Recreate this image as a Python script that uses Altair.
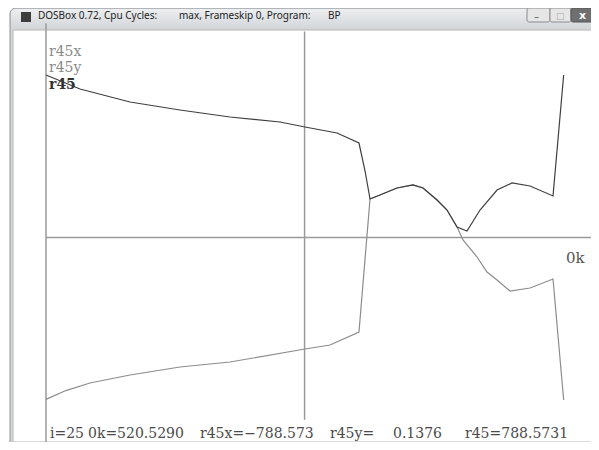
import altair as alt
import pandas as pd

# ---- data ----
# k parameter (x) and values of r45 (magnitude, dark) and r45x (gray)
r45_k = [0.0, 34.2, 84.5, 134.7, 185.0, 235.3, 260.4, 292.6, 314.7, 320.8, 325.8, 335.8,
         352.9, 369.0, 379.1, 393.2, 403.2, 413.3, 423.3, 436.4, 453.5, 468.6, 486.7,
         509.8, 520.5]
r45_v = [788.6, 720.9, 657.8, 618.9, 584.9, 560.7, 536.4, 507.3, 458.7, 322.8, 186.9, 206.3,
         240.3, 254.9, 240.3, 182.0, 133.5, 51.0, 31.6, 133.5, 230.6, 264.6, 250.0,
         201.5, 788.6]

r45x_k = [0.0, 20.0, 44.2, 84.5, 134.7, 185.0, 260.4, 285.6, 314.7, 325.8, 335.8, 352.9, 369.0,
          379.1, 393.2, 403.2, 413.3, 419.3, 433.4, 443.4, 453.5, 466.6, 486.7, 509.8, 520.5]
r45x_v = [-786.0, -743.0, -706.3, -667.5, -628.6, -604.4, -541.3, -521.8, -458.7, 186.9, 206.3,
          240.3, 254.9, 240.3, 182.0, 133.5, 51.0, -12.1, -94.7, -167.5, -206.3, -259.7, -245.1,
          -201.5, -788.6]

legend_labels = ["r45x", "r45y", "r45"]
status_labels = ["i=25", "0k=520.5290", "r45x=\u2212788.573", "r45y=", "0.1376", "r45=788.5731"]
title_parts = ["DOSBox 0.72, Cpu Cycles:", "max, Frameskip  0, Program:", "BP"]
axis_label = "0k"
marker_k = 260.0

W, H = 583, 434
xs = alt.Scale(domain=[0, 550], range=[38, 585])
ys = alt.Scale(domain=[-1000, 1000], range=[435.5, 23.5])

lines = pd.concat([
    pd.DataFrame({"k": r45x_k, "v": r45x_v, "s": "r45x", "o": range(len(r45x_k))}),
    pd.DataFrame({"k": r45_k, "v": r45_v, "s": "r45", "o": range(len(r45_k))}),
])

one = pd.DataFrame({"a": [0]})

def rect(x, x2, y, y2, fill, stroke=None, r=0, sw=1):
    kw = dict(fill=fill, cornerRadius=r)
    if stroke:
        kw.update(stroke=stroke, strokeWidth=sw)
    else:
        kw.update(strokeWidth=0)
    return alt.Chart(one).mark_rect(**kw).encode(
        x=alt.value(x), x2=alt.value(x2), y=alt.value(y), y2=alt.value(y2))

def txt(s, x, y, color, size, font, weight="normal"):
    return alt.Chart(one).mark_text(align="left", baseline="alphabetic", color=color,
                                    fontSize=size, font=font, fontWeight=weight).encode(
        x=alt.value(x), y=alt.value(y), text=alt.value(s))

title_grad = alt.Gradient(gradient="linear", x1=0, x2=0, y1=0, y2=1,
                          stops=[alt.GradientStop(color="#eceef0", offset=0),
                                 alt.GradientStop(color="#d3d6d9", offset=1)])

frame = [
    rect(2, 590, 0, 440, "#d6d9dc", "#8e9194", 6),
    rect(3, 589, 1, 21, title_grad, None, 5),
    rect(5, 585, 22, 434, "#ffffff", "#b5b5b5", 0),
    rect(13, 23, 4, 14, "#3c3c3c"),
    rect(519, 542, 0, 14, "#e6e6e6", "#8a8a8a", 2),
    rect(542, 563, 0, 14, "#e6e6e6", "#8a8a8a", 2),
    rect(563, 588, 0, 14, "#6f6f6f", "#555555", 2),
    txt(title_parts[0], 30, 11, "#222222", 10, "Noto Sans"),
    txt(title_parts[1], 171, 11, "#222222", 10, "Noto Sans"),
    txt(title_parts[2], 320, 11, "#222222", 10, "Noto Sans"),
    txt("\u2013", 526, 12, "#555555", 10, "DejaVu Sans"),
    txt("\u25a1", 548, 11, "#aaaaaa", 9, "DejaVu Sans"),
    txt("x", 571, 11, "#ffffff", 11, "DejaVu Sans", "bold"),
]

axes_df = pd.DataFrame({"k": [0, marker_k, 0], "k2": [0, marker_k, 550],
                        "v": [1040, 1000, 0], "v2": [-1000, -885, 0]})
rules = alt.Chart(axes_df).mark_rule(color="#9a9a9a", strokeWidth=1.5).encode(
    x=alt.X("k:Q", scale=xs, axis=None), x2="k2",
    y=alt.Y("v:Q", scale=ys, axis=None), y2="v2")

curves = alt.Chart(lines).mark_line(strokeWidth=1.2).encode(
    x=alt.X("k:Q", scale=xs, axis=None),
    y=alt.Y("v:Q", scale=ys, axis=None),
    color=alt.Color("s:N", scale=alt.Scale(domain=["r45x", "r45"], range=["#8c8c8c", "#3f3f3f"]),
                    legend=None),
    order="o:Q",
    detail="s:N",
)

serif = "DejaVu Serif"
texts = [
    txt(legend_labels[0], 41, 47.5, "#8a8a8a", 14, serif),
    txt(legend_labels[1], 41, 64, "#8a8a8a", 14, serif),
    txt(legend_labels[2], 41, 80.5, "#333333", 14, serif, "bold"),
    txt(axis_label, 558, 255, "#555555", 15, serif),
]
sx = [42, 80, 192, 322, 385, 457]
for s, x in zip(status_labels, sx):
    texts.append(txt(s, x, 430, "#4a4a4a", 14, serif))

chart = alt.layer(*frame, rules, curves, *texts).properties(
    width=W, height=H, autosize=alt.AutoSizeParams(type="none"), padding=0,
    background="#ffffff",
).configure_view(stroke=None)

chart.save("out.html", embed_options={"renderer": "svg", "actions": False})
